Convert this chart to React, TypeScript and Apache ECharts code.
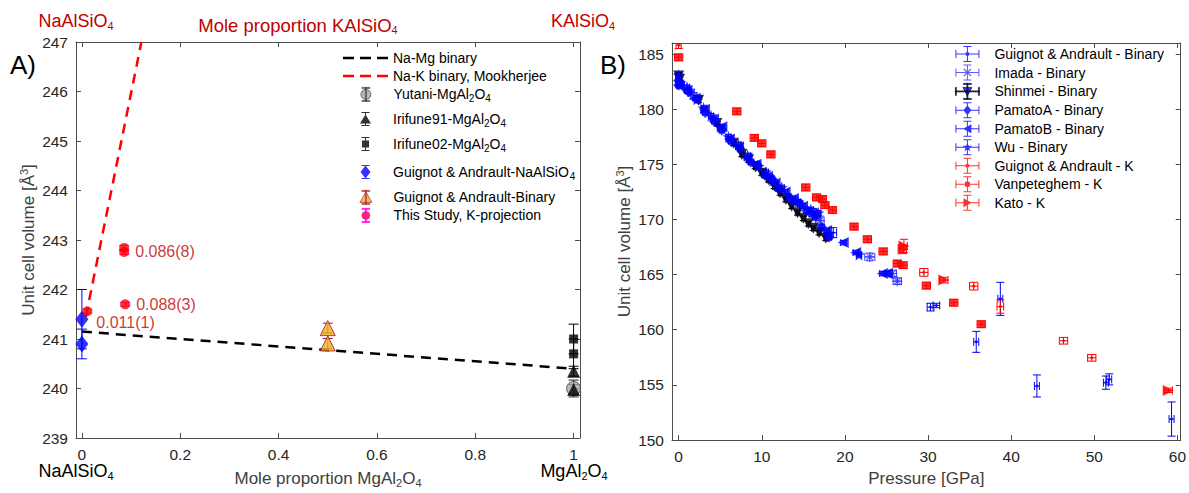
import React, { useEffect, useRef } from 'react';
import * as echarts from 'echarts';

const FONT = 'Arial, "Liberation Sans", Helvetica, sans-serif';

// ---------------- Panel A data ----------------
const compTicks = [0, 0.2, 0.4, 0.6, 0.8, 1];
const naMgBinary = [[0, 241.15], [1, 240.4]];
const naKBinary = [[0.008, 241.45], [0.121, 247]];
// [mole proportion, volume, error]
const yutani = [[1, 240.0, 0.17]];
const irifune91 = [[1, 240.35, 0.1], [1, 239.98, 0.1]];
const irifune02 = [[1, 241.0, 0.3], [1, 240.7, 0.3]];
const guignotNa = [[0, 241.4, 0.6], [0, 240.9, 0.3]];
const guignotBinaryA = [[0.5, 241.22, 0.1], [0.5, 240.91, 0.1]];
const thisStudy = [[0.011, 241.56, 0.04], [0.086, 242.76, 0.05], [0.086, 242.84, 0.05], [0.088, 241.7, 0.04]];
const thisStudyLabels = ['0.011(1)', '0.086(8)', '', '0.088(3)'];

// ---------------- Panel B data ----------------
const pressureTicks = [0, 10, 20, 30, 40, 50, 60];
const volumeTicksB = [150, 155, 160, 165, 170, 175, 180, 185];
// [P (GPa), V, errP, errV]
const guignotBinaryB = [
  [18.6, 168.8, 0.4, 0.45], [30.3, 162.05, 0.4, 0.35], [31.0, 162.2, 0.4, 0.2],
  [35.8, 158.9, 0.3, 0.95], [38.7, 162.8, 0.3, 1.5], [43.1, 154.9, 0.3, 1.0],
  [51.4, 155.2, 0.3, 0.6], [51.8, 155.5, 0.3, 0.5], [59.3, 151.9, 0.3, 1.55],
];
const imada = [
  [1.5, 181.5, 0.4, 0.3], [1.8, 181.2, 0.4, 0.3], [2.3, 180.9, 0.4, 0.3],
  [16.2, 170.6, 0.5, 0.4], [16.6, 170.3, 0.5, 0.4], [17.0, 169.9, 0.5, 0.4],
  [23.0, 166.6, 0.6, 0.35], [25.7, 165.1, 0.5, 0.3], [26.3, 164.4, 0.5, 0.3],
];
const shinmei = [
  [0, 183.0, 0.2, 0.2], [0.1, 182.7, 0.2, 0.2], [2.4, 180.8, 0.2, 0.2], [4.6, 178.7, 0.2, 0.2],
  [6.6, 176.9, 0.2, 0.2], [7.6, 175.9, 0.2, 0.2], [8.4, 175.4, 0.2, 0.2], [9.2, 174.8, 0.2, 0.2],
  [10.0, 174.2, 0.2, 0.2], [10.8, 173.6, 0.2, 0.2], [11.5, 173.0, 0.2, 0.2], [12.2, 172.4, 0.2, 0.2],
  [12.9, 171.8, 0.2, 0.2], [13.6, 171.2, 0.2, 0.2], [14.3, 170.6, 0.2, 0.2], [15.0, 170.1, 0.2, 0.2],
  [15.6, 169.6, 0.2, 0.2], [16.2, 169.2, 0.2, 0.2], [16.9, 168.8, 0.2, 0.2], [17.7, 168.3, 0.2, 0.2],
];
const pamatoA = [
  [0, 182.6, 0.3, 0.2], [0, 182.2, 0.3, 0.2], [1.2, 181.6, 0.3, 0.2], [3.2, 179.7, 0.3, 0.2],
  [4.3, 178.9, 0.3, 0.2], [5.2, 178.1, 0.3, 0.2], [6.3, 177.1, 0.3, 0.2], [7.4, 176.4, 0.3, 0.2],
  [8.7, 175.2, 0.3, 0.2], [9.5, 174.9, 0.3, 0.2], [10.4, 174.0, 0.3, 0.2], [11.2, 173.7, 0.3, 0.2],
  [12.0, 172.8, 0.3, 0.2], [13.7, 171.7, 0.3, 0.2], [14.6, 171.4, 0.3, 0.2], [15.4, 170.8, 0.3, 0.2],
  [16.5, 170.3, 0.3, 0.2], [17.2, 169.3, 0.3, 0.2], [18.1, 168.4, 0.3, 0.2],
];
const pamatoB = [
  [0.1, 182.1, 0.3, 0.2], [1.0, 181.7, 0.3, 0.2], [2.0, 181.0, 0.3, 0.2], [3.1, 180.0, 0.3, 0.2],
  [4.2, 179.1, 0.3, 0.2], [5.2, 178.4, 0.3, 0.2], [6.1, 177.3, 0.3, 0.2], [7.2, 176.6, 0.3, 0.2],
  [8.2, 175.6, 0.3, 0.2], [9.3, 175.0, 0.3, 0.2], [10.7, 173.9, 0.3, 0.2], [11.6, 173.3, 0.3, 0.2],
  [12.8, 172.5, 0.3, 0.2], [13.8, 171.9, 0.3, 0.2], [14.9, 171.2, 0.3, 0.2], [16.0, 170.5, 0.3, 0.2],
  [17.8, 169.0, 0.3, 0.2], [19.8, 167.9, 0.3, 0.2], [21.3, 167.0, 0.3, 0.2], [24.5, 165.1, 0.3, 0.2],
  [25.1, 165.1, 0.3, 0.2],
];
const wu = [
  [0, 183.1, 0.3, 0.2], [0.2, 182.4, 0.3, 0.2], [1.0, 182.0, 0.3, 0.2], [2.2, 180.9, 0.3, 0.2],
  [3.0, 180.1, 0.3, 0.2], [3.9, 179.4, 0.3, 0.2], [5.0, 178.4, 0.3, 0.2], [6.0, 177.5, 0.3, 0.2],
  [7.2, 176.8, 0.3, 0.2], [8.3, 175.8, 0.3, 0.2], [9.6, 174.8, 0.3, 0.2], [10.5, 174.3, 0.3, 0.2],
  [11.3, 173.5, 0.3, 0.2], [12.4, 172.9, 0.3, 0.2], [13.2, 172.1, 0.3, 0.2], [14.4, 171.6, 0.3, 0.2],
  [15.9, 170.9, 0.3, 0.2], [16.8, 170.6, 0.3, 0.2], [18.0, 168.6, 0.3, 0.2], [21.7, 166.8, 0.3, 0.2],
];
const guignotK = [
  [0, 185.8, 0.3, 0.3], [29.5, 165.2, 0.5, 0.35], [35.5, 163.95, 0.5, 0.35],
  [38.7, 162.1, 0.4, 0.6], [46.3, 159.0, 0.5, 0.3], [49.7, 157.45, 0.5, 0.3],
];
const vanpeteghem = [
  [0, 184.7, 0.5, 0.3], [7.0, 179.8, 0.5, 0.3], [9.1, 177.4, 0.5, 0.3], [10.0, 176.9, 0.5, 0.3],
  [11.1, 175.9, 0.5, 0.3], [15.3, 172.9, 0.5, 0.3], [16.6, 172.0, 0.5, 0.3], [17.3, 171.85, 0.5, 0.3],
  [17.6, 171.3, 0.5, 0.3], [18.5, 170.85, 0.5, 0.3], [21.1, 169.35, 0.5, 0.3], [22.7, 168.2, 0.5, 0.3],
  [24.6, 167.1, 0.5, 0.3], [26.3, 166.0, 0.5, 0.3], [27.0, 165.85, 0.5, 0.3], [29.8, 164.0, 0.5, 0.3],
  [33.1, 162.45, 0.5, 0.3], [36.4, 160.5, 0.5, 0.3],
];
const kato = [
  [27.1, 167.6, 0.4, 0.6], [27.0, 167.3, 0.4, 0.4], [31.9, 164.5, 0.5, 0.25], [58.9, 154.5, 0.5, 0.2],
];

// ---------------- helpers ----------------
const DARKRED = '#c00000';
const AXIS = '#4d4d4d';
const LABEL = '#262626';
const BLUE = '#0000ff';
const RED = '#ff0000';

function sub(color: string, size: number) {
  return { fontSize: size, color, fontFamily: FONT, padding: [Math.round(size * 0.8), 0, 0, 0] };
}
function sup(color: string, size: number) {
  return { fontSize: size, color, fontFamily: FONT, padding: [0, 0, Math.round(size * 0.8), 0] };
}
function chem(s: string) {
  return s
    .replace(/MgAl2O4/g, 'MgAl{s|2}O{s|4}')
    .replace(/NaAlSiO4/g, 'NaAlSiO{s|4}')
    .replace(/KAlSiO4/g, 'KAlSiO{s|4}');
}

function errorRenderer(color: string, cap: number, width = 1) {
  return (_params: any, api: any) => {
    const x = api.value(0), y = api.value(1), ex = api.value(2), ey = api.value(3);
    const st = { stroke: color, lineWidth: width, fill: 'none' };
    const ch: any[] = [];
    if (ey > 0) {
      const a = api.coord([x, y + ey]);
      const b = api.coord([x, y - ey]);
      ch.push({ type: 'line', shape: { x1: a[0], y1: a[1], x2: b[0], y2: b[1] }, style: st });
      ch.push({ type: 'line', shape: { x1: a[0] - cap, y1: a[1], x2: a[0] + cap, y2: a[1] }, style: st });
      ch.push({ type: 'line', shape: { x1: b[0] - cap, y1: b[1], x2: b[0] + cap, y2: b[1] }, style: st });
    }
    if (ex > 0) {
      const l = api.coord([x - ex, y]);
      const r = api.coord([x + ex, y]);
      ch.push({ type: 'line', shape: { x1: l[0], y1: l[1], x2: r[0], y2: r[1] }, style: st });
      ch.push({ type: 'line', shape: { x1: l[0], y1: l[1] - cap, x2: l[0], y2: l[1] + cap }, style: st });
      ch.push({ type: 'line', shape: { x1: r[0], y1: r[1] - cap, x2: r[0], y2: r[1] + cap }, style: st });
    }
    return { type: 'group', children: ch };
  };
}

// axis: 0 = panel A (x/y axis index 0), 2 = panel B (x/y axis index 2)
function withErrors(
  name: string, data: number[][], axis: number, errColor: string, cap: number, scatter: any, errWidth = 1,
) {
  return [
    {
      type: 'custom', name: name + ' (err)', xAxisIndex: axis, yAxisIndex: axis,
      data, encode: { x: 0, y: 1 }, renderItem: errorRenderer(errColor, cap, errWidth),
      clip: true, silent: true, z: 3,
    },
    {
      type: 'scatter', name, xAxisIndex: axis, yAxisIndex: axis,
      data: data.map((d) => [d[0], d[1]]), clip: true, z: 4, ...scatter,
    },
  ];
}

const asA = (arr: number[][]) => arr.map((d) => [d[0], d[1], 0, d[2]]);

// symbol paths
const STAR = 'path://M0,-5L1.18,-1.62L4.76,-1.55L1.9,0.62L2.94,4.05L0,2L-2.94,4.05L-1.9,0.62L-4.76,-1.55L-1.18,-1.62Z';
const ASTER = 'path://M-0.6,-5H0.6V5H-0.6Z M-5,-0.6H5V0.6H-5Z M-3.1,-3.9L3.9,3.1L3.1,3.9L-3.9,-3.1Z M3.9,-3.1L-3.1,3.9L-3.9,3.1L3.1,-3.9Z';

// legend icons, panel A (vertical error bar + marker)
const DASH = 'path://M0,0H11V2.5H0Z M17,0H28V2.5H17Z M34,0H45V2.5H34Z';
const barsA = 'M5.5,0H6.5V14H5.5Z M2,0H10V1H2Z M2,13H10V14H2Z ';
const iconA = {
  yutani: 'path://' + barsA + 'M1,7A5,5 0 1,1 11,7A5,5 0 1,1 1,7Z',
  iri91: 'path://' + barsA + 'M6,2.5L11.5,11.5H0.5Z',
  iri02: 'path://' + barsA + 'M2.5,3.5H9.5V10.5H2.5Z',
  gNa: 'path://' + barsA + 'M6,0.5L11,7L6,13.5L1,7Z',
  gBin: 'path://' + barsA + 'M6,1.5L12,12H0Z',
  study: 'path://' + barsA + 'M2,7A4,4 0 1,1 10,7A4,4 0 1,1 2,7Z',
};
// legend icons, panel B (cross error bars + marker)
const barsB = 'M1,7.5H25V8.5H1Z M1,4H2V12H1Z M24,4H25V12H24Z M12.5,0H13.5V16H12.5Z M9,0H17V1H9Z M9,15H17V16H9Z ';
const iconB = {
  dot: 'path://' + barsB + 'M11,8A2,2 0 1,1 15,8A2,2 0 1,1 11,8Z',
  aster: 'path://' + barsB + 'M9.9,4.1L16.9,11.1L16.1,11.9L9.1,4.9Z M16.9,4.9L9.9,11.9L9.1,11.1L16.1,4.1Z',
  down: 'path://' + barsB + 'M8.5,4H17.5L13,12.5Z',
  diamond: 'path://' + barsB + 'M13,3L17,8L13,13L9,8Z',
  left: 'path://' + barsB + 'M8.5,8L17,3.5V12.5Z',
  star: 'path://' + barsB + 'M13,3L14.18,6.38L17.76,6.45L14.9,8.62L15.94,12.05L13,10L10.06,12.05L11.1,8.62L8.24,6.45L11.82,6.38Z',
  square: 'path://' + barsB + 'M10.5,5.5H15.5V10.5H10.5Z',
  right: 'path://' + barsB + 'M9,3.5L17.5,8L9,12.5Z',
};

function buildOption() {
  const tickA = { show: true, inside: true, length: 5, lineStyle: { color: AXIS } };
  const lineA = { show: true, onZero: false, lineStyle: { color: AXIS, width: 1 } };
  const labelStyle = { color: LABEL, fontSize: 15.5, fontFamily: FONT };

  const xAxis: any[] = [
    {
      type: 'value', gridIndex: 0, position: 'bottom', min: -0.012, max: 1.013,
      axisLine: lineA, splitLine: { show: false },
      axisTick: { ...tickA, customValues: compTicks },
      axisLabel: { ...labelStyle, margin: 8, customValues: compTicks, formatter: (v: number) => String(v) },
      name: chem('Mole proportion MgAl2O4'), nameLocation: 'middle', nameGap: 30,
      nameTextStyle: { color: '#404040', fontSize: 17, fontFamily: FONT, rich: { s: sub('#404040', 11) } },
    },
    {
      type: 'value', gridIndex: 0, position: 'top', min: -0.012, max: 1.013,
      axisLine: lineA, splitLine: { show: false },
      axisTick: { ...tickA, customValues: compTicks },
      axisLabel: { show: false, customValues: compTicks },
    },
    {
      type: 'value', gridIndex: 1, position: 'bottom', min: -0.8, max: 60.4,
      axisLine: lineA, splitLine: { show: false },
      axisTick: { ...tickA, customValues: pressureTicks },
      axisLabel: { ...labelStyle, margin: 8, customValues: pressureTicks },
      name: 'Pressure [GPa]', nameLocation: 'middle', nameGap: 30,
      nameTextStyle: { color: '#404040', fontSize: 17, fontFamily: FONT },
    },
    {
      type: 'value', gridIndex: 1, position: 'top', min: -0.8, max: 60.4,
      axisLine: lineA, splitLine: { show: false },
      axisTick: { ...tickA, customValues: pressureTicks },
      axisLabel: { show: false, customValues: pressureTicks },
    },
  ];
  const yName = 'Unit cell volume [Å{p|3}]';
  const yNameStyle = {
    color: '#404040', fontSize: 17, fontFamily: FONT, rich: { p: sup('#404040', 11) },
  };
  const yAxis: any[] = [
    {
      type: 'value', gridIndex: 0, position: 'left', min: 239, max: 247, interval: 1,
      axisLine: lineA, splitLine: { show: false }, axisTick: tickA,
      axisLabel: { ...labelStyle, margin: 8 },
      name: yName, nameLocation: 'middle', nameGap: 38, nameTextStyle: yNameStyle,
    },
    {
      type: 'value', gridIndex: 0, position: 'right', min: 239, max: 247, interval: 1,
      axisLine: lineA, splitLine: { show: false }, axisTick: tickA, axisLabel: { show: false },
    },
    {
      type: 'value', gridIndex: 1, position: 'left', min: 150, max: 186,
      axisLine: lineA, splitLine: { show: false },
      axisTick: { ...tickA, customValues: volumeTicksB },
      axisLabel: { ...labelStyle, margin: 8, customValues: volumeTicksB },
      name: yName, nameLocation: 'middle', nameGap: 38, nameTextStyle: yNameStyle,
    },
    {
      type: 'value', gridIndex: 1, position: 'right', min: 150, max: 186,
      axisLine: lineA, splitLine: { show: false },
      axisTick: { ...tickA, customValues: volumeTicksB },
      axisLabel: { show: false, customValues: volumeTicksB },
    },
  ];

  const series: any[] = [
    {
      type: 'line', name: 'Na-Mg binary', xAxisIndex: 0, yAxisIndex: 0, data: naMgBinary,
      symbol: 'none', lineStyle: { color: '#000', width: 2.5, type: [10, 7] }, itemStyle: { color: '#000' }, z: 2,
    },
    {
      type: 'line', name: 'Na-K binary, Mookherjee', xAxisIndex: 0, yAxisIndex: 0, data: naKBinary,
      symbol: 'none', lineStyle: { color: RED, width: 2.5, type: [10, 7] }, itemStyle: { color: RED }, z: 2,
    },
    ...withErrors('Yutani-MgAl2O4', asA(yutani), 0, '#222', 5, {
      symbol: 'circle', symbolSize: 14, itemStyle: { color: '#a6a6a6', borderColor: '#404040', borderWidth: 1 },
    }),
    ...withErrors('Irifune91-MgAl2O4', asA(irifune91), 0, '#000', 5, {
      symbol: 'triangle', symbolSize: 13, itemStyle: { color: '#000' },
    }),
    ...withErrors('Irifune02-MgAl2O4', asA(irifune02), 0, '#000', 5, {
      symbol: 'rect', symbolSize: 9, itemStyle: { color: '#000' },
    }),
    ...withErrors('Guignot & Andrault-NaAlSiO4', asA(guignotNa), 0, BLUE, 5, {
      symbol: 'diamond', symbolSize: [13, 17], itemStyle: { color: BLUE },
    }),
    ...withErrors('Guignot & Andrault-Binary', asA(guignotBinaryA), 0, '#a2142f', 5, {
      symbol: 'triangle', symbolSize: 15, itemStyle: { color: '#edb120', borderColor: '#a2142f', borderWidth: 1 },
    }),
    ...withErrors('This Study, K-projection', asA(thisStudy), 0, '#ff00ff', 5, {
      symbol: 'circle', symbolSize: 10, itemStyle: { color: RED },
      label: { show: true, position: 'right', distance: 6, color: DARKRED, fontSize: 16, fontFamily: FONT },
    }),
    // Panel B
    ...withErrors('Guignot & Andrault - Binary', guignotBinaryB, 2, BLUE, 4, {
      symbol: 'circle', symbolSize: 3, itemStyle: { color: BLUE },
    }),
    ...withErrors('Imada - Binary', imada, 2, '#3333ff', 4, {
      symbol: ASTER, symbolSize: 10, itemStyle: { color: '#3333ff' },
    }),
    ...withErrors('Shinmei - Binary', shinmei, 2, '#000', 3.5, {
      symbol: 'triangle', symbolRotate: 180, symbolSize: 11, itemStyle: { color: '#000010' },
    }),
    ...withErrors('PamatoA - Binary', pamatoA, 2, BLUE, 3.5, {
      symbol: 'diamond', symbolSize: 11, itemStyle: { color: BLUE },
    }),
    ...withErrors('PamatoB - Binary', pamatoB, 2, BLUE, 3.5, {
      symbol: 'triangle', symbolRotate: 90, symbolSize: 11, itemStyle: { color: BLUE },
    }),
    ...withErrors('Wu - Binary', wu, 2, BLUE, 3.5, {
      symbol: STAR, symbolSize: 12, itemStyle: { color: BLUE },
    }),
    ...withErrors('Guignot & Andrault - K', guignotK, 2, RED, 4, {
      symbol: 'circle', symbolSize: 3, itemStyle: { color: RED },
    }),
    ...withErrors('Vanpeteghem - K', vanpeteghem, 2, RED, 4, {
      symbol: 'rect', symbolSize: 8, itemStyle: { color: RED },
    }),
    ...withErrors('Kato - K', kato, 2, RED, 4, {
      symbol: 'triangle', symbolRotate: -90, symbolSize: 11, itemStyle: { color: RED },
    }),
  ];

  // labels on "This Study" points
  const study = series.find((s) => s.type === 'scatter' && s.name === 'This Study, K-projection');
  study.data = study.data.map((v: number[], i: number) => ({
    value: v,
    label: { show: !!thisStudyLabels[i], formatter: thisStudyLabels[i], offset: i === 0 ? [-2, 11] : [0, 0] },
  }));

  const legendText = { color: '#000', fontSize: 14, fontFamily: FONT, rich: { s: sub('#000', 10) } };
  // w = icon width (legend is positioned by its content box)
  const leftLegendItems: any[] = [
    { name: 'Na-Mg binary', cy: 57, w: 45, dy: 6, icon: DASH, itemStyle: { color: '#000' } },
    { name: 'Na-K binary, Mookherjee', cy: 75, w: 45, dy: 6, icon: DASH, itemStyle: { color: RED } },
    { name: 'Yutani-MgAl2O4', cy: 95, w: 10, dy: 8, icon: iconA.yutani, itemStyle: { color: '#a6a6a6', borderColor: '#333', borderWidth: 0.8 } },
    { name: 'Irifune91-MgAl2O4', cy: 120, w: 11, dy: 8, icon: iconA.iri91, itemStyle: { color: '#000' } },
    { name: 'Irifune02-MgAl2O4', cy: 145, w: 8, dy: 8, icon: iconA.iri02, itemStyle: { color: '#000' } },
    { name: 'Guignot & Andrault-NaAlSiO4', cy: 171, w: 10, dy: 6, icon: iconA.gNa, itemStyle: { color: BLUE } },
    { name: 'Guignot & Andrault-Binary', cy: 196, w: 12, dy: 6, icon: iconA.gBin, itemStyle: { color: '#edb120', borderColor: '#a2142f', borderWidth: 0.8 } },
    { name: 'This Study, K-projection', cy: 214, w: 8, dy: 6, icon: iconA.study, itemStyle: { color: RED, borderColor: '#ff00ff', borderWidth: 0.8 } },
  ];
  const legend: any[] = leftLegendItems.map((it) => ({
    show: true, orient: 'vertical', left: 343 + (45 - it.w) / 2, top: it.cy - it.dy,
    itemWidth: 45, itemHeight: 14, padding: 0, selectedMode: false,
    data: [{ name: it.name, icon: it.icon, itemStyle: it.itemStyle }],
    formatter: (n: string) => chem(n), textStyle: legendText,
  }));
  const rightNames: any[] = [
    { name: 'Guignot & Andrault - Binary', icon: iconB.dot, itemStyle: { color: BLUE } },
    { name: 'Imada - Binary', icon: iconB.aster, itemStyle: { color: '#3333ff' } },
    { name: 'Shinmei - Binary', icon: iconB.down, itemStyle: { color: BLUE, borderColor: '#000', borderWidth: 0.8 } },
    { name: 'PamatoA - Binary', icon: iconB.diamond, itemStyle: { color: BLUE } },
    { name: 'PamatoB - Binary', icon: iconB.left, itemStyle: { color: BLUE } },
    { name: 'Wu - Binary', icon: iconB.star, itemStyle: { color: BLUE } },
    { name: 'Guignot & Andrault - K', icon: iconB.dot, itemStyle: { color: RED } },
    { name: 'Vanpeteghem - K', icon: iconB.square, itemStyle: { color: RED } },
    { name: 'Kato - K', icon: iconB.right, itemStyle: { color: RED } },
  ];
  legend.push({
    show: true, orient: 'vertical', left: 955, top: 46, itemGap: 2.5, itemWidth: 26, itemHeight: 16,
    padding: 0, selectedMode: false, data: rightNames,
    textStyle: { color: '#000', fontSize: 14, fontFamily: FONT, padding: [0, 0, 0, 9] },
  });

  const t = (x: number, y: number, text: string, size: number, color: string, align = 'center') => ({
    type: 'text', x, y, silent: true,
    style: {
      text, fontSize: size, fontFamily: FONT, fill: color, align, verticalAlign: 'middle',
      rich: { s: { ...sub(color, Math.round(size * 0.62)), fill: color } },
    },
  });

  const graphic = [
    t(10, 65, 'A)', 26, '#000', 'left'),
    t(600, 65, 'B)', 26, '#000', 'left'),
    t(76, 21, chem('NaAlSiO4'), 18, DARKRED),
    t(298, 25, chem('Mole proportion KAlSiO4'), 18.5, DARKRED),
    t(583, 21, chem('KAlSiO4'), 18, DARKRED),
    t(76, 471, chem('NaAlSiO4'), 18, '#000'),
    t(574, 471, chem('MgAl2O4'), 18, '#000'),
  ];

  return {
    animation: false,
    backgroundColor: '#ffffff',
    textStyle: { fontFamily: FONT },
    grid: [
      { left: 76, right: 1189 - 580, top: 42, bottom: 493 - 438, containLabel: false },
      { left: 672, right: 7, top: 43, bottom: 493 - 440, containLabel: false },
    ],
    xAxis, yAxis, series, legend, graphic,
  };
}

export default function App() {
  const ref = useRef<HTMLDivElement>(null);
  useEffect(() => {
    if (!ref.current) return;
    const chart = echarts.init(ref.current, undefined, { renderer: 'svg' });
    chart.setOption(buildOption() as any);
    return () => chart.dispose();
  }, []);
  return (
    <div
      ref={ref}
      style={{ position: 'fixed', left: 0, top: 0, width: 1189, height: 493, background: '#fff' }}
    />
  );
}
